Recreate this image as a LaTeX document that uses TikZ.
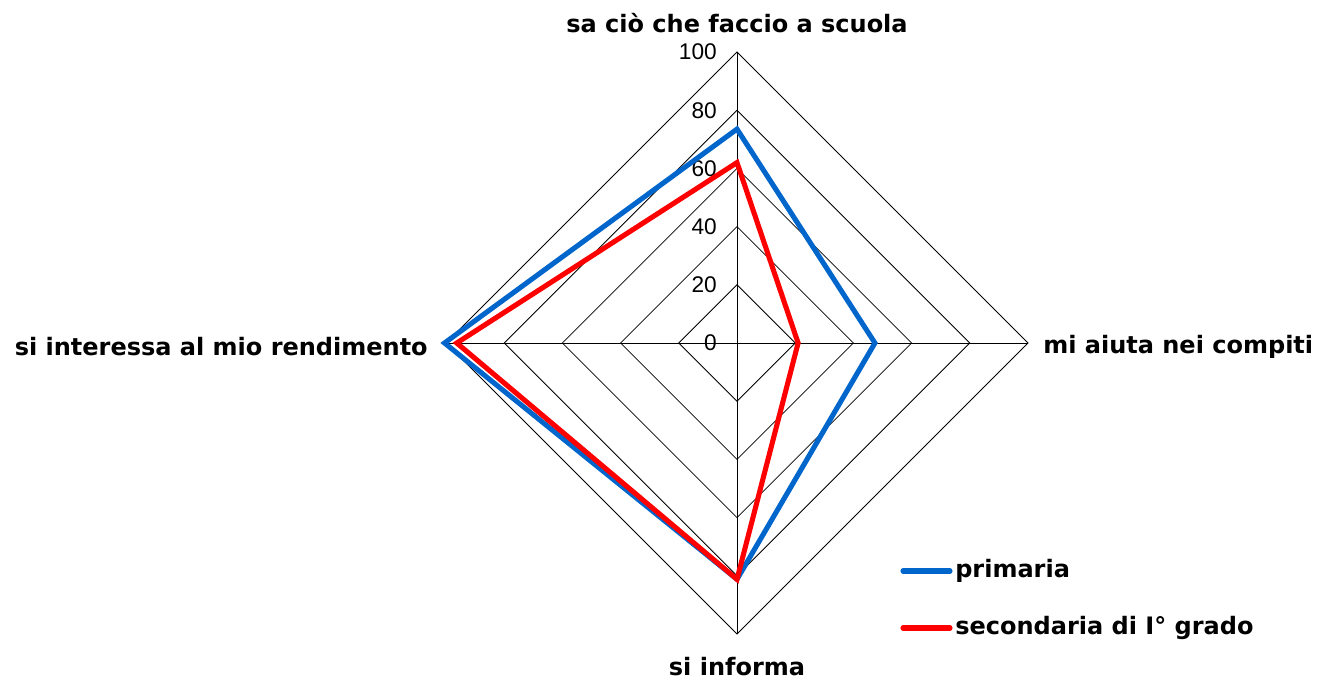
\documentclass[tikz,border=0pt]{standalone}
\usepackage{fontspec}
\setmainfont{DejaVu Sans}
\newfontfamily\tickfont{Liberation Sans}
\definecolor{primblue}{RGB}{0,102,204}
\definecolor{secred}{RGB}{255,0,0}
\tikzset{
  gridline/.style={black, line width=0.6pt},
  axislabel/.style={font=\bfseries\fontsize{18}{18}\selectfont, inner sep=0pt},
  ticklabel/.style={font=\tickfont\fontsize{17}{17}\selectfont, anchor=east, inner sep=0pt},
  serie/.style={line width=3.8pt, line join=miter},
}
\begin{document}
\begin{tikzpicture}[x=0.75pt,y=0.75pt]
    \useasboundingbox (-737,-339) rectangle (594,343);

    % grid
    \foreach \r in {20,40,...,100}
        \draw[gridline] (0,\r*2.91) -- (\r*2.91,0) -- (0,-\r*2.91) -- (-\r*2.91,0) -- cycle;
    \draw[gridline] (0,-291) -- (0,291);
    \draw[gridline] (-291,0) -- (291,0);

    % scale
    \foreach \r in {0,20,...,100}
        \node[ticklabel] (T\r) at (-20,\r*2.91) {\r};

    % axes
    \node[axislabel] (N) at (0,320) {sa ciò che faccio a scuola};
    \node[axislabel, anchor=west] (E) at (306,-4) {mi aiuta nei compiti};
    \node[axislabel, anchor=east] (W) at (-309,-4) {si interessa al mio rendimento};
    \node[axislabel] (S) at (0,-324) {si informa};

    % data
    \coordinate (A1) at (0,73.5*2.91);
    \coordinate (A2) at (47.4*2.91,0);
    \coordinate (A3) at (0,-81.2*2.91);
    \coordinate (A4) at (-100.5*2.91,0);

    \coordinate (B1) at (0,62*2.91);
    \coordinate (B2) at (21*2.91,0);
    \coordinate (B3) at (0,-81.2*2.91);
    \coordinate (B4) at (-96.3*2.91,0);

    \draw[serie, primblue] (A1) -- (A2) -- (A3) -- (A4) -- cycle;
    \draw[serie, secred] (B1) -- (B2) -- (B3) -- (B4) -- cycle;

    % legend
    \coordinate (L1a) at (166,-228);
    \coordinate (L1b) at (213,-228);
    \coordinate (L2a) at (166,-285);
    \coordinate (L2b) at (213,-285);
    \draw[serie, primblue, line cap=round] (L1a) -- (L1b);
    \draw[serie, secred, line cap=round] (L2a) -- (L2b);
    \node[axislabel, anchor=west] (P) at (218,-228) {primaria};
    \node[axislabel, anchor=west] (Q) at (218,-285) {secondaria di I° grado};

\end{tikzpicture}
\end{document}
